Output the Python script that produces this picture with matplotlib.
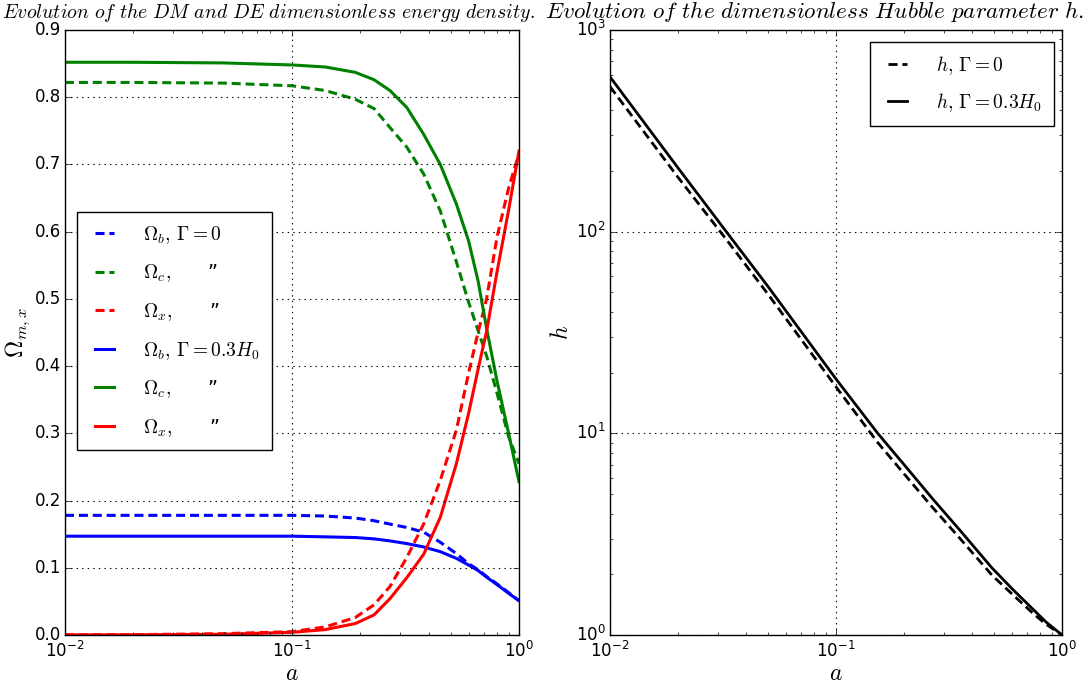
import matplotlib
matplotlib.use('Agg')
import matplotlib.pyplot as plt

plt.style.use('classic')
plt.rcParams['mathtext.fontset'] = 'cm'
plt.rcParams['figure.facecolor'] = 'white'
plt.rcParams['savefig.facecolor'] = 'white'

# scale factor samples for the density parameters
a = [0.01, 0.02, 0.05, 0.1, 0.14, 0.19, 0.23, 0.27, 0.32, 0.38,
     0.45, 0.53, 0.6, 0.66, 0.72, 0.8, 0.9, 1.0]

# Gamma = 0
omega_b0 = [0.178, 0.178, 0.178, 0.178, 0.177, 0.174, 0.170, 0.165, 0.160, 0.153,
            0.138, 0.121, 0.106, 0.097, 0.087, 0.076, 0.063, 0.051]
omega_c0 = [0.822, 0.822, 0.821, 0.817, 0.810, 0.797, 0.783, 0.755, 0.726, 0.686,
            0.631, 0.555, 0.495, 0.453, 0.415, 0.360, 0.295, 0.255]
omega_x0 = [0.0003, 0.0005, 0.002, 0.005, 0.012, 0.026, 0.045, 0.072, 0.115, 0.165,
            0.230, 0.305, 0.390, 0.450, 0.500, 0.592, 0.665, 0.716]

# Gamma = 0.3 H0
omega_b1 = [0.147, 0.147, 0.147, 0.147, 0.146, 0.145, 0.143, 0.140, 0.136, 0.131,
            0.124, 0.114, 0.104, 0.096, 0.086, 0.075, 0.062, 0.051]
omega_c1 = [0.852, 0.852, 0.851, 0.848, 0.845, 0.837, 0.826, 0.810, 0.785, 0.745,
            0.700, 0.641, 0.586, 0.527, 0.456, 0.378, 0.300, 0.228]
omega_x1 = [0.0002, 0.0003, 0.001, 0.004, 0.008, 0.017, 0.030, 0.054, 0.085, 0.120,
            0.175, 0.255, 0.330, 0.395, 0.452, 0.540, 0.632, 0.720]

# Hubble parameter
a_h = [0.01, 0.02, 0.0327, 0.05, 0.1, 0.153, 0.2, 0.267, 0.35, 0.49,
       0.6, 0.75, 0.85, 1.0]
h0 = [524, 186, 91.5, 49, 17.0, 9.0, 6.3, 4.3, 3.05, 1.98, 1.6, 1.27, 1.13, 1.0]
h1 = [586, 207, 100, 53.5, 18.6, 10.0, 7.0, 4.75, 3.35, 2.15, 1.7, 1.33, 1.16, 1.0]

W, H = 1090, 691
fig = plt.figure(figsize=(W / 100, H / 100), dpi=100)
ax1 = fig.add_axes([65 / W, 56 / H, 454 / W, 605 / H])
ax2 = fig.add_axes([610 / W, 56 / H, 452 / W, 605 / H])

dash = (6.5, 3.5)
lw = 2.2
ditto = r'$\quad\;\;\;\,$' + '”'
ax1.semilogx(a, omega_b0, color='b', lw=lw, dashes=dash, label=r'$\Omega_b,\,\Gamma=0$')
ax1.semilogx(a, omega_c0, color='g', lw=lw, dashes=dash, label=r'$\Omega_c,$' + ditto)
ax1.semilogx(a, omega_x0, color='r', lw=lw, dashes=dash, label=r'$\Omega_x,$' + ditto)
ax1.semilogx(a, omega_b1, color='b', lw=lw, label=r'$\Omega_b,\,\Gamma=0.3H_0$')
ax1.semilogx(a, omega_c1, color='g', lw=lw, label=r'$\Omega_c,$' + ditto)
ax1.semilogx(a, omega_x1, color='r', lw=lw, label=r'$\Omega_x,$' + ditto)
ax1.set_xlim(0.01, 1)
ax1.set_ylim(0, 0.9)
ax1.set_xlabel(r'$a$', fontsize=17, labelpad=0)
ax1.set_ylabel(r'$\Omega_{m,x}$', fontsize=17, labelpad=2)
ax1.legend(loc='upper left', bbox_to_anchor=(0.027, 0.699), borderaxespad=0,
           fontsize=14, handlelength=1.6, handletextpad=1.2, labelspacing=0.86,
           borderpad=0.6, fancybox=False, frameon=True)

ax2.loglog(a_h, h0, color='k', lw=2, dashes=dash, label=r'$h,\,\Gamma=0$')
ax2.loglog(a_h, h1, color='k', lw=2, label=r'$h,\,\Gamma=0.3H_0$')
ax2.set_xlim(0.01, 1)
ax2.set_ylim(1, 1000)
ax2.set_xlabel(r'$a$', fontsize=17, labelpad=0)
ax2.set_ylabel(r'$h$', fontsize=17, labelpad=2)
ax2.legend(loc='upper right', bbox_to_anchor=(0.983, 0.98), borderaxespad=0,
           fontsize=14, handlelength=1.6, handletextpad=1.2, labelspacing=0.75,
           borderpad=0.6, fancybox=False, frameon=True)

for ax in (ax1, ax2):
    ax.grid(True, which='major', color='k', linestyle=':', linewidth=0.8)
    ax.tick_params(labelsize=12)
    ax.tick_params(axis='y', pad=3)

titles = [
    (r'$\mathit{Evolution\ of\ the\ DM\ and\ DE\ dimensionless\ energy\ density.}$', 2, 534),
    (r'$\mathit{Evolution\ of\ the\ dimensionless\ Hubble\ parameter\ h.}$', 545, 540),
]
fig.canvas.draw()
renderer = fig.canvas.get_renderer()
for txt, x0, width in titles:
    t = fig.text(x0 / W, 1 - 12 / H, txt, ha='left', va='center', fontsize=14)
    w = t.get_window_extent(renderer).width
    t.set_fontsize(14 * width / w)

fig.savefig('out.png', dpi=100)
